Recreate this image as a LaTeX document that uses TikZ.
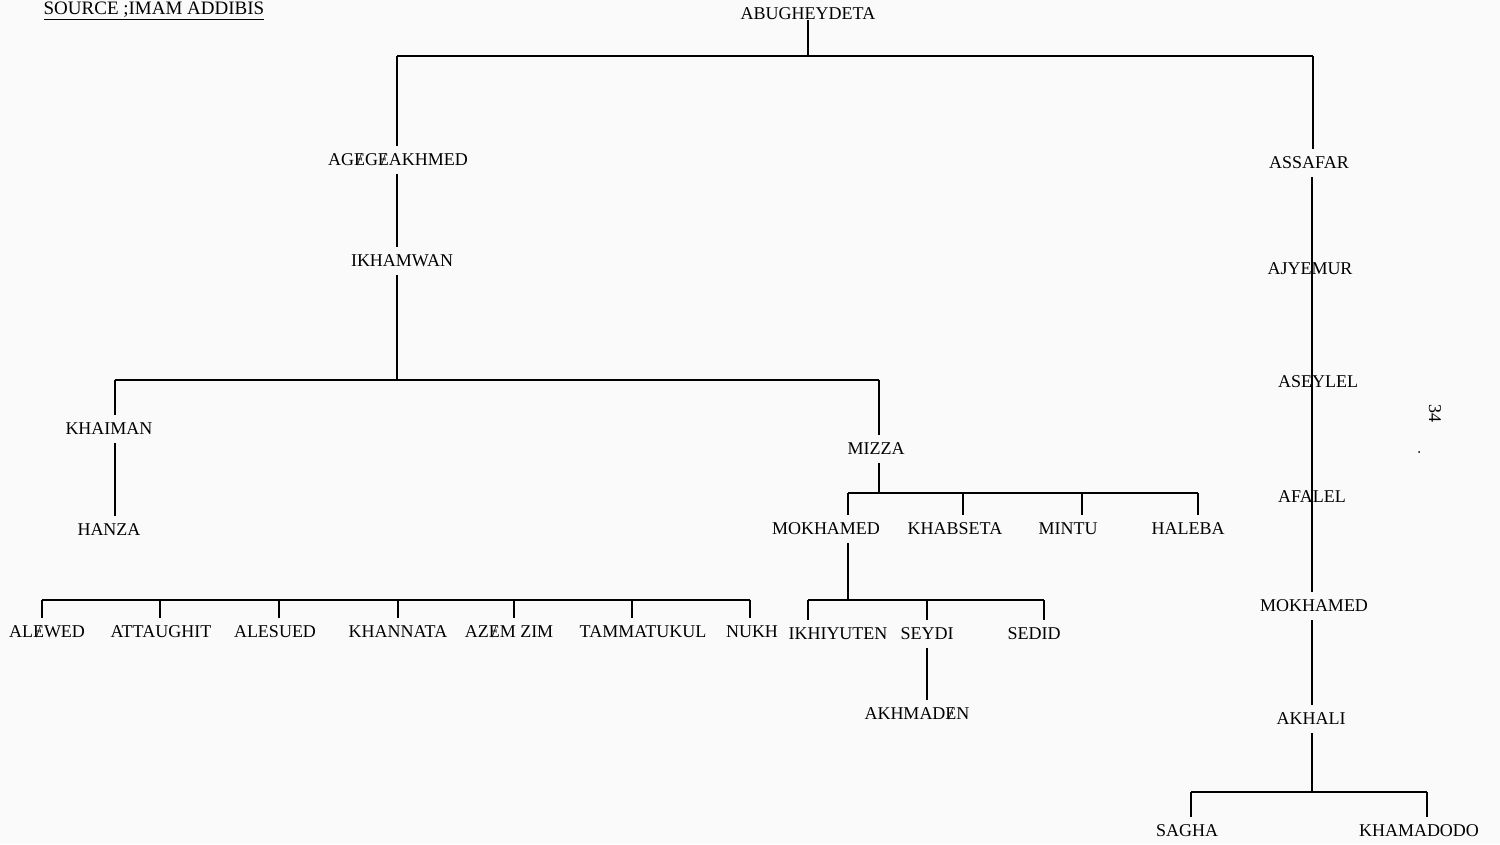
\documentclass[tikz,border=0pt]{standalone}
\usepackage{fontspec}
\setmainfont{Liberation Serif}
\newcommand{\slE}{\ooalign{E\cr\hidewidth/\hidewidth\cr}}
\begin{document}
\begin{tikzpicture}[x=1pt,y=-1pt,
  lbl/.style={font=\fontsize{18}{20}\selectfont, inner sep=0pt, outer xsep=0pt, outer ysep=8pt},
  link/.style={draw=black, line width=1.5pt}]
\fill[white!98!black] (0,0) rectangle (1500,844);
\useasboundingbox (0,0) rectangle (1500,844);
% source
\node[lbl, font=\fontsize{19}{21}\selectfont, outer ysep=0pt, anchor=north] (src) at (154,2) {\underline{SOURCE ;IMAM ADDIBIS}};
% page number
\node[lbl, rotate=-90, outer ysep=0pt] (pg) at (1435,413) {34};
\fill (1419,452) circle (1pt);
% nodes
\node[lbl, outer ysep=0pt] (abu) at (808,14) {ABUGHEYDETA};
\node[lbl] (agg) at (398,160) {AG\slE G\slE AKHMED};
\node[lbl] (ikh) at (402,261) {IKHAMWAN};
\node[lbl] (kha) at (109,429) {KHAIMAN};
\node[lbl] (han) at (109,530) {HANZA};
\node[lbl] (miz) at (876,449) {MIZZA};
\node[lbl] (mok1) at (826,529) {MOKHAMED};
\node[lbl] (khb) at (955,529) {KHABSETA};
\node[lbl] (min) at (1068,529) {MINTU};
\node[lbl] (hal) at (1188,529) {HALEBA};
\node[lbl] (ikhy) at (838,634) {IKHIYUTEN};
\node[lbl] (sey) at (927,634) {SEYDI};
\node[lbl] (sed) at (1034,634) {SEDID};
\node[lbl] (akhm) at (917,714) {AKHMAD\slE N};
\node[lbl] (ale) at (47,632) {AL\slE WED};
\node[lbl] (att) at (161,632) {ATTAUGHIT};
\node[lbl] (als) at (275,632) {ALESUED};
\node[lbl] (khn) at (398,632) {KHANNATA};
\node[lbl] (aze) at (509,632) {AZ\slE M ZIM};
\node[lbl] (tam) at (643,632) {TAMMATUKUL};
\node[lbl] (nuk) at (752,632) {NUKH};
\node[lbl] (ass) at (1309,163) {ASSAFAR};
\node[lbl] (ajy) at (1310,269) {AJYEMUR};
\node[lbl] (ase) at (1318,382) {ASEYLEL};
\node[lbl] (afa) at (1312,497) {AFALEL};
\node[lbl] (mok2) at (1314,606) {MOKHAMED};
\node[lbl] (akh) at (1311,719) {AKHALI};
\node[lbl] (sag) at (1187,831) {SAGHA};
\node[lbl] (kham) at (1419,831) {KHAMADODO};
% junction coordinates
\coordinate (j0) at (808,56);
\coordinate (b0l) at (397,56);
\coordinate (b0r) at (1313,56);
\coordinate (j1) at (397,380);
\coordinate (b1l) at (115,380);
\coordinate (b1r) at (879,380);
\coordinate (j2) at (879,493);
\coordinate (b2l) at (848,493);
\coordinate (b2a) at (963,493);
\coordinate (b2b) at (1082,493);
\coordinate (b2r) at (1198,493);
\coordinate (j3) at (848,600);
\coordinate (b3l) at (808,600);
\coordinate (b3a) at (927,600);
\coordinate (b3r) at (1044,600);
\coordinate (b4a) at (42,600);
\coordinate (b4b) at (160,600);
\coordinate (b4c) at (279,600);
\coordinate (b4d) at (398,600);
\coordinate (b4e) at (514,600);
\coordinate (b4f) at (632,600);
\coordinate (b4g) at (750,600);
\coordinate (j4) at (1312,792);
\coordinate (b5l) at (1191,792);
\coordinate (b5r) at (1427,792);
% connectors
\draw[link] (abu.south -| j0) -- (j0);
\draw[link] (b0l) -- (b0r);
\draw[link] (b0l) -- (b0l |- agg.north);
\draw[link] (b0r) -- (b0r |- ass.north);
\draw[link] (agg.south -| b0l) -- (ikh.north -| b0l);
\draw[link] (ikh.south -| j1) -- (j1);
\draw[link] (b1l) -- (b1r);
\draw[link] (b1l) -- (b1l |- kha.north);
\draw[link] (b1r) -- (b1r |- miz.north);
\draw[link] (kha.south -| b1l) -- (han.north -| b1l);
\draw[link] (miz.south -| j2) -- (j2);
\draw[link] (b2l) -- (b2r);
\draw[link] (b2l) -- (b2l |- mok1.north);
\draw[link] (b2a) -- (b2a |- khb.north);
\draw[link] (b2b) -- (b2b |- min.north);
\draw[link] (b2r) -- (b2r |- hal.north);
\draw[link] (mok1.south -| j3) -- (j3);
\draw[link] (b3l) -- (b3r);
\draw[link] (b3l) -- (b3l |- ikhy.north);
\draw[link] (b3a) -- (b3a |- sey.north);
\draw[link] (b3r) -- (b3r |- sed.north);
\draw[link] (sey.south -| b3a) -- (akhm.north -| b3a);
\draw[link] (b4a) -- (b4g);
\draw[link] (b4a) -- (b4a |- ale.north);
\draw[link] (b4b) -- (b4b |- att.north);
\draw[link] (b4c) -- (b4c |- als.north);
\draw[link] (b4d) -- (b4d |- khn.north);
\draw[link] (b4e) -- (b4e |- aze.north);
\draw[link] (b4f) -- (b4f |- tam.north);
\draw[link] (b4g) -- (b4g |- nuk.north);
\draw[link] (ass.south -| j4) -- (mok2.north -| j4);
\draw[link] (mok2.south -| j4) -- (akh.north -| j4);
\draw[link] (akh.south -| j4) -- (j4);
\draw[link] (b5l) -- (b5r);
\draw[link] (b5l) -- (b5l |- sag.north);
\draw[link] (b5r) -- (b5r |- kham.north);
\end{tikzpicture}
\end{document}
